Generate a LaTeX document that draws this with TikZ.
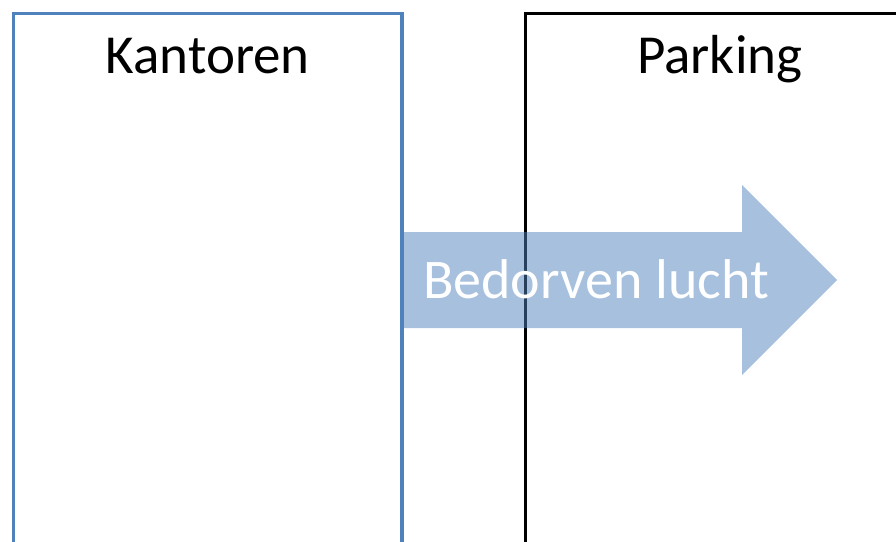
\documentclass[tikz,border=0pt]{standalone}
\usepackage{fontspec}
\setmainfont{Carlito}
\definecolor{officeblue}{HTML}{4F81BD}
\tikzset{
  room/.style={draw, line width=3.5pt, outer sep=0pt, inner sep=0pt, anchor=north west,
    minimum width=388.5pt, minimum height=600pt},
  roomlabel/.style={font=\fontsize{55}{66}\selectfont, anchor=base},
  airflow/.style={fill=officeblue, fill opacity=0.5},
  flowlabel/.style={font=\fontsize{56}{66}\selectfont, text=white, anchor=base}
}
\begin{document}
\begin{tikzpicture}[x=1pt, y=-1pt]
  \useasboundingbox (0,0) rectangle (896,541);
  \clip (0,0) rectangle (896,541);
  % the two rooms, each with its name at the top
  \foreach \x/\name/\col in {13.5/kantoren/officeblue, 525.5/parking/black} {
    \node[room, draw=\col] (\name) at (\x,13.5) {};
  }
  \node[roomlabel] (kantorenlabel) at (207.75,73) {Kantoren};
  \node[roomlabel] (parkinglabel) at (719.75,73) {Parking};

  % Arrow from the offices into the parking
  \fill[airflow] (403,232) -- (742,232) -- (742,185) -- (837,280)
    -- (742,375) -- (742,328) -- (403,328) -- cycle;
  \node[flowlabel] (lucht) at (596,298) {Bedorven lucht};
\end{tikzpicture}
\end{document}
